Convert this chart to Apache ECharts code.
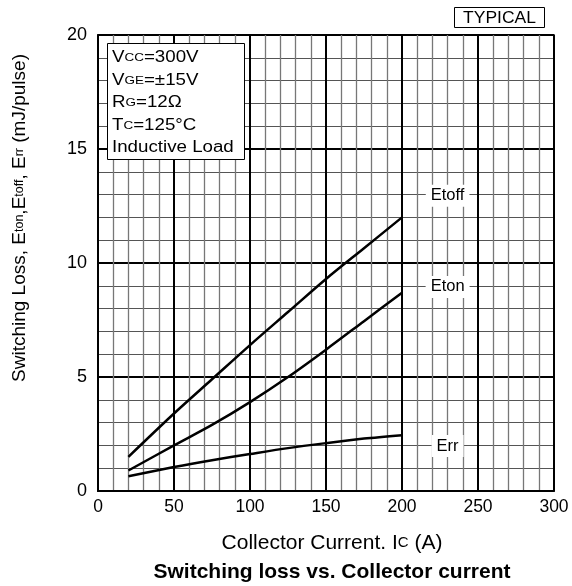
<!DOCTYPE html>
<html>
<head>
<meta charset="utf-8">
<script src="https://cdn.jsdelivr.net/npm/echarts@6/dist/echarts.min.js"></script>
<style>
  html, body { margin: 0; padding: 0; background: #fff; }
  #plot { width: 572px; height: 586px; }
</style>
</head>
<body>
<div id="plot"></div>
<script>
// 数据
var currentA = [20, 50, 75, 100, 125, 150, 175, 200];
var etoff = [1.5, 3.4, 4.9, 6.4, 7.85, 9.3, 10.65, 12.0];
var eton = [0.9, 2.0, 2.9, 3.9, 5.0, 6.2, 7.45, 8.7];
var err = [0.65, 1.05, 1.35, 1.62, 1.88, 2.1, 2.3, 2.45];

var curveNames = ['Etoff', 'Eton', 'Err'];
var labelX = [230, 230, 230];
var labelY = [12.95, 8.95, 1.97];

var conditionLines = [
  '{n|V}{s|CC}{n|=300V}',
  '{n|V}{s|GE}{n|=±15V}',
  '{n|R}{s|G}{n|=12Ω}',
  '{n|T}{s|C}{n|=125°C}',
  '{n|Inductive Load}'
];

var FONT = '"Liberation Sans", Arial, sans-serif';

function pairs(xs, ys) {
  return xs.map(function (x, i) { return [x, ys[i]]; });
}

function richText(size, subSize, weight) {
  return {
    n: { fontFamily: FONT, fontSize: size, fontWeight: weight || 'normal', fill: '#000', color: '#000' },
    s: { fontFamily: FONT, fontSize: subSize, fill: '#000', color: '#000' }
  };
}

var myChart = echarts.init(document.getElementById('plot'));

var lineStyle = { color: '#000', width: 2.5 };

// 条件框里的每一行
var boxTexts = conditionLines.map(function (t, i) {
  return {
    type: 'text',
    x: 4.5,
    y: 14.5 + i * 22.5,
    scaleX: 1.17,
    z: 101,
    style: {
      text: t,
      align: 'left',
      verticalAlign: 'middle',
      rich: richText(16, 11.5)
    }
  };
});

var option = {
  backgroundColor: '#fff',
  animation: false,
  textStyle: { fontFamily: FONT, color: '#000' },
  graphic: [
    {
      type: 'group',
      left: 107,
      top: 43,
      z: 100,
      children: [
        {
          type: 'rect',
          z: 100,
          shape: { x: 0, y: 0, width: 137, height: 116 },
          style: { fill: '#fff', stroke: '#000', lineWidth: 1 }
        }
      ].concat(boxTexts)
    },
    {
      type: 'group',
      left: 454,
      top: 7,
      z: 100,
      children: [
        {
          type: 'rect',
          z: 100,
          shape: { x: 0, y: 0, width: 90, height: 20 },
          style: { fill: '#fff', stroke: '#000', lineWidth: 1 }
        },
        {
          type: 'text',
          z: 101,
          x: 45,
          y: 10.5,
          scaleX: 1.06,
          style: {
            text: 'TYPICAL', align: 'center', verticalAlign: 'middle',
            font: '16.5px ' + FONT, fill: '#000'
          }
        }
      ]
    },
    {
      // y 轴标题
      type: 'text',
      x: 20,
      y: 218,
      rotation: Math.PI / 2,
      style: {
        text: '{n|Switching Loss, E}{s|ton}{n|,E}{s|toff}{n|, E}{s|rr}{n| (mJ/pulse)}',
        align: 'center',
        verticalAlign: 'middle',
        rich: richText(19, 12.5)
      }
    },
    {
      // x 轴标题
      type: 'text',
      x: 332,
      y: 543,
      style: {
        text: '{n|Collector Current. I}{s|C}{n| (A)}',
        align: 'center',
        verticalAlign: 'middle',
        rich: richText(21, 15)
      }
    },
    {
      type: 'text',
      x: 332,
      y: 572,
      style: {
        text: 'Switching loss vs. Collector current',
        align: 'center',
        verticalAlign: 'middle',
        font: 'bold 21px ' + FONT,
        fill: '#000'
      }
    }
  ],
  grid: { left: 98, right: 18, top: 35, bottom: 95, show: true, borderColor: '#000', borderWidth: 1.5 },
  xAxis: {
    type: 'value',
    min: 0,
    max: 300,
    interval: 50,
    axisLine: { show: true, lineStyle: { color: '#000', width: 2 } },
    axisTick: { show: false },
    axisLabel: { color: '#000', fontSize: 17.5, fontFamily: FONT, margin: 7 },
    splitLine: { show: true, lineStyle: { color: '#000', width: 2 } },
    minorTick: { show: false, splitNumber: 5 },
    minorSplitLine: { show: true, lineStyle: { color: '#777', width: 1.3 } }
  },
  yAxis: {
    type: 'value',
    min: 0,
    max: 20,
    interval: 5,
    axisLine: { show: true, lineStyle: { color: '#000', width: 2 } },
    axisTick: { show: false },
    axisLabel: { color: '#000', fontSize: 18, fontFamily: FONT, margin: 11 },
    splitLine: { show: true, lineStyle: { color: '#000', width: 2 } },
    minorTick: { show: false, splitNumber: 5 },
    minorSplitLine: { show: true, lineStyle: { color: '#555', width: 1.2 } }
  },
  series: [
    {
      name: 'Etoff', type: 'line', smooth: 0.3, symbol: 'none',
      lineStyle: lineStyle, data: pairs(currentA, etoff), z: 5
    },
    {
      name: 'Eton', type: 'line', smooth: 0.3, symbol: 'none',
      lineStyle: lineStyle, data: pairs(currentA, eton), z: 5
    },
    {
      name: 'Err', type: 'line', smooth: 0.3, symbol: 'none',
      lineStyle: lineStyle, data: pairs(currentA, err), z: 5
    },
    {
      // 曲线标签
      type: 'scatter',
      symbolSize: 0,
      itemStyle: { color: '#fff', opacity: 1 },
      z: 6,
      data: curveNames.map(function (n, i) { return { name: n, value: [labelX[i], labelY[i]] }; }),
      label: {
        show: true,
        position: 'inside',
        formatter: '{b}',
        fontFamily: FONT,
        fontSize: 16.5,
        color: '#000',
        opacity: 1,
        backgroundColor: '#fff',
        padding: [3, 5, 2, 5]
      }
    }
  ]
};

myChart.setOption(option);
</script>
</body>
</html>
